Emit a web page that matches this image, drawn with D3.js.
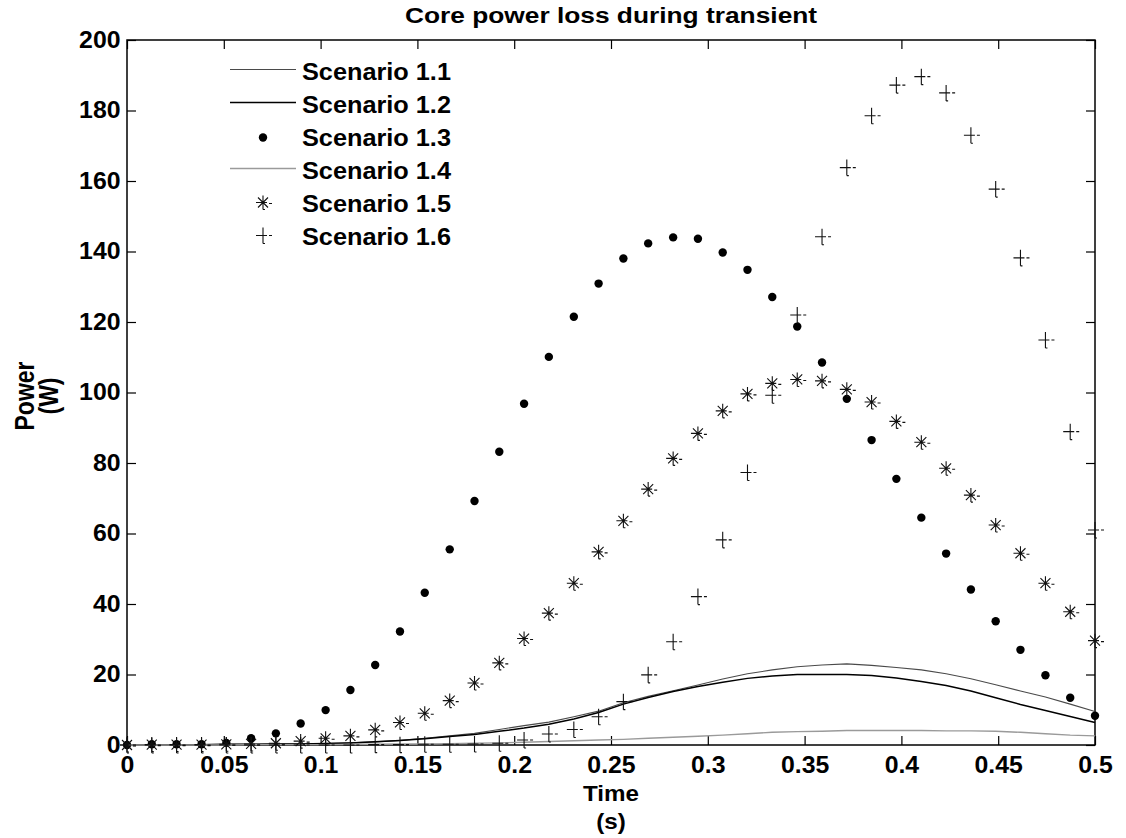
<!DOCTYPE html>
<html><head><meta charset="utf-8">
<script src="https://cdn.jsdelivr.net/npm/d3@7"></script>
<style>
body{margin:0;background:#fff}
svg{display:block}
text{font-family:"Liberation Sans",Arial,Helvetica,sans-serif;font-weight:bold;fill:#000}
</style>
</head><body>
<svg id="c" width="1126" height="838"></svg>
<script>
// ---------- data ----------
const time = [0,0.0128,0.0256,0.0385,0.0513,0.0641,0.0769,0.0897,0.1026,0.1154,0.1282,0.1410,0.1538,0.1667,0.1795,0.1923,0.2051,0.2179,0.2308,0.2436,0.2564,0.2692,0.2821,0.2949,0.3077,0.3205,0.3333,0.3462,0.3590,0.3718,0.3846,0.3974,0.4103,0.4231,0.4359,0.4487,0.4615,0.4744,0.4872,0.5];
const scenario11 = [0,0.1,0.1,0.1,0.2,0.2,0.3,0.3,0.4,0.6,0.9,1.3,1.9,2.6,3.3,4.4,5.5,6.5,8.0,9.6,12.0,13.8,15.4,17.0,18.7,20.2,21.3,22.2,22.7,23.0,22.6,22.0,21.3,20.2,18.8,17.1,15.3,13.6,11.6,9.5];
const scenario12 = [0,0.1,0.1,0.1,0.2,0.2,0.3,0.3,0.4,0.6,0.9,1.3,1.8,2.4,3.0,3.9,4.8,5.9,7.4,9.2,11.6,13.5,15.2,16.6,17.8,18.9,19.6,20.0,20.0,20.0,19.7,19.0,18.0,16.9,15.3,13.4,11.5,9.8,8.1,6.4];
const scenario13 = [0,0.2,0.2,0.2,0.6,1.9,3.3,6.1,9.9,15.6,22.7,32.2,43.2,55.5,69.2,83.2,96.8,110.1,121.5,130.9,138.0,142.3,144.0,143.6,139.7,134.8,127.1,118.7,108.5,98.2,86.5,75.5,64.5,54.3,44.1,35.1,27.0,19.8,13.4,8.3];
const scenario14 = [0,0,0,0,0,0.1,0.1,0.1,0.1,0.2,0.2,0.3,0.3,0.4,0.5,0.6,0.8,1.0,1.2,1.4,1.6,1.9,2.2,2.5,2.8,3.2,3.6,3.8,3.9,4.1,4.1,4.1,4.1,4.0,4.0,3.9,3.6,3.2,2.8,2.6];
const scenario15 = [0,0.1,0.1,0.1,0.2,0.3,0.5,1.1,1.9,2.6,4.3,6.4,9.0,12.6,17.6,23.3,30.2,37.4,45.9,54.8,63.6,72.6,81.3,88.4,94.8,99.6,102.6,103.7,103.3,100.9,97.3,91.8,85.9,78.5,70.9,62.4,54.4,45.9,37.8,29.6];
const scenario16 = [0,0,0,0,0,0,0,0,0,0,0.1,0.1,0.2,0.2,0.3,0.5,1.4,3.1,4.4,8.0,12.3,19.9,29.3,42.1,58.2,77.3,99.2,122.0,144.2,163.8,178.5,187.2,189.6,185.0,173.0,157.7,138.2,114.9,88.9,61.0];
const seriesNames = ["Scenario 1.1","Scenario 1.2","Scenario 1.3","Scenario 1.4","Scenario 1.5","Scenario 1.6"];
const xTickValues = [0,0.05,0.1,0.15,0.2,0.25,0.3,0.35,0.4,0.45,0.5];
const xTickLabels = ["0","0.05","0.1","0.15","0.2","0.25","0.3","0.35","0.4","0.45","0.5"];
const yTickValues = [0,20,40,60,80,100,120,140,160,180,200];
const yTickLabels = ["0","20","40","60","80","100","120","140","160","180","200"];
const titleText = "Core power loss during transient";
const xLabel = ["Time","(s)"];
const yLabel = ["Power","(W)"];

// ---------- layout ----------
const M = {l:127, r:1095, t:40, b:745};
const svg = d3.select("#c");
const x = d3.scaleLinear().domain([0,0.5]).range([M.l, M.r]);
const y = d3.scaleLinear().domain([0,200]).range([M.b, M.t]);
const SX = 1.08;

// axes (inward ticks on all four sides)
function styleAxis(g, scaleText){
  g.attr("font-size", null).attr("font-family", null);
  g.select(".domain").remove();
  g.selectAll(".tick line").attr("stroke","#000").attr("stroke-width",1.2);
  g.selectAll(".tick text").style("font-size","23px").attr("transform", scaleText ? `scale(${SX},1)` : null);
}
const gx = svg.append("g").attr("transform",`translate(0,${M.b})`)
  .call(d3.axisBottom(x).tickValues(xTickValues).tickFormat((d,i)=>xTickLabels[i]).tickSizeInner(-9).tickSizeOuter(0).tickPadding(12));
styleAxis(gx,true);
const gy = svg.append("g").attr("transform",`translate(${M.l},0)`)
  .call(d3.axisLeft(y).tickValues(yTickValues).tickFormat((d,i)=>yTickLabels[i]).tickSizeInner(-9).tickSizeOuter(0).tickPadding(6));
styleAxis(gy,true);
const gt = svg.append("g").attr("transform",`translate(0,${M.t})`)
  .call(d3.axisTop(x).tickValues(xTickValues).tickFormat("").tickSizeInner(-9).tickSizeOuter(0));
styleAxis(gt,false);
const gr = svg.append("g").attr("transform",`translate(${M.r},0)`)
  .call(d3.axisRight(y).tickValues(yTickValues).tickFormat("").tickSizeInner(-9).tickSizeOuter(0));
styleAxis(gr,false);

svg.append("rect").attr("x",M.l).attr("y",M.t).attr("width",M.r-M.l).attr("height",M.b-M.t)
  .attr("fill","none").attr("stroke","#000").attr("stroke-width",1.5);

// ---------- marks ----------
const line = d3.line().x((d,i)=>x(time[i])).y(d=>y(d));
const plusPath = "M-7,0H4M0,-8V8M6,0H9M0,8H2";
const starPath = "M-7,0H4M0,-7V7M-5,-5L5,5M-5,5L5,-5M6,1H9M0,7H2";

const styles = [
  {type:"line", color:"#4a4a4a", width:1.1},
  {type:"line", color:"#000", width:1.5},
  {type:"dot"},
  {type:"line", color:"#9a9a9a", width:1.4},
  {type:"marker", path:starPath},
  {type:"marker", path:plusPath}
];
const allSeries = [scenario11, scenario12, scenario13, scenario14, scenario15, scenario16];

allSeries.forEach((vals, k)=>{
  const st = styles[k];
  if(st.type==="line"){
    svg.append("path").datum(vals).attr("d",line).attr("fill","none")
      .attr("stroke",st.color).attr("stroke-width",st.width);
  } else if(st.type==="dot"){
    svg.append("g").selectAll("circle").data(vals).join("circle")
      .attr("cx",(d,i)=>x(time[i])).attr("cy",d=>y(d)).attr("r",4.2).attr("fill","#000");
  } else {
    svg.append("g").selectAll("path").data(vals).join("path")
      .attr("transform",(d,i)=>`translate(${x(time[i])},${y(d)})`)
      .attr("d",st.path).attr("fill","none").attr("stroke","#111").attr("stroke-width",1.1);
  }
});

// ---------- legend ----------
const leg = svg.append("g");
seriesNames.forEach((name,k)=>{
  const cy = 71.5 + k*33;
  const st = styles[k];
  if(st.type==="line"){
    leg.append("line").attr("x1",230).attr("x2",296).attr("y1",cy-2).attr("y2",cy-2)
      .attr("stroke",st.color).attr("stroke-width",st.width);
  } else if(st.type==="dot"){
    leg.append("circle").attr("cx",263).attr("cy",cy).attr("r",4.2).attr("fill","#000");
  } else {
    leg.append("path").attr("transform",`translate(263,${cy-1})`).attr("d",st.path)
      .attr("fill","none").attr("stroke","#111").attr("stroke-width",1.1);
  }
  leg.append("text").attr("transform",`translate(302,${cy+8.5}) scale(1.1,1)`)
    .style("font-size","23px").text(name);
});

// ---------- titles ----------
svg.append("text").attr("transform",`translate(611,23) scale(1.17,1)`).attr("text-anchor","middle")
  .style("font-size","22.5px").text(titleText);
svg.append("text").attr("transform",`translate(611,801) scale(1.1,1)`).attr("text-anchor","middle")
  .style("font-size","22px").text(xLabel[0]);
svg.append("text").attr("transform",`translate(611,829) scale(1.1,1)`).attr("text-anchor","middle")
  .style("font-size","22px").text(xLabel[1]);
svg.append("text").attr("transform",`translate(34,396) scale(1.22,1) rotate(-90)`).attr("text-anchor","middle")
  .style("font-size","23px").text(yLabel[0]);
svg.append("text").attr("transform",`translate(58,396) scale(1.22,1) rotate(-90)`).attr("text-anchor","middle")
  .style("font-size","23px").text(yLabel[1]);
</script>
</body></html>
